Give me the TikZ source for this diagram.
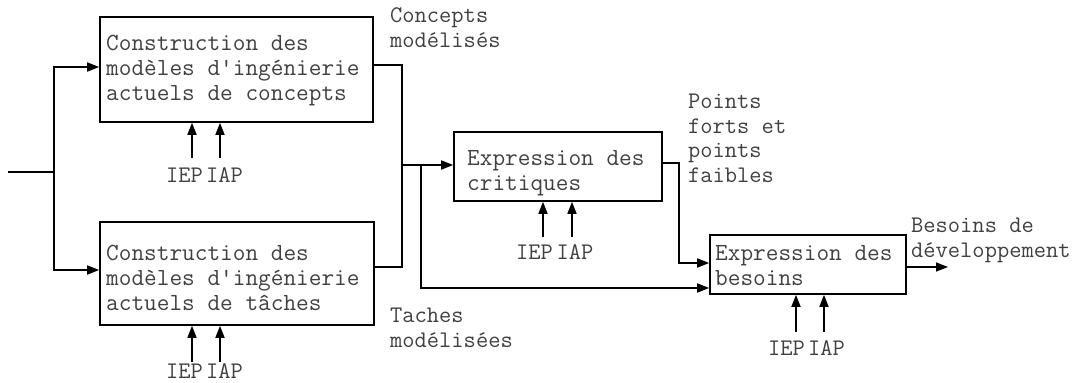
\documentclass[tikz,border=0pt]{standalone}
\usepackage{fontspec}
\usetikzlibrary{arrows.meta, positioning}

\begin{document}
\begin{tikzpicture}[
    x=1pt, y=-1pt,
    every node/.style={font=\ttfamily\fontsize{24.6pt}{25pt}\selectfont, text=black!75},
    procbox/.style={rectangle, draw=black, line width=1.6pt, inner sep=0pt},
    boxtxt/.style={align=left, inner sep=0pt, anchor=base west},
    lbl/.style={font=\ttfamily\fontsize{23.8pt}{24.5pt}\selectfont, align=left, inner sep=0pt},
    arr/.style={-{Triangle[length=12pt,width=9pt]}, line width=1.6pt},
    wire/.style={line width=1.6pt}
]
\useasboundingbox (0,0) rectangle (1085,383);

% process boxes
\node[procbox, minimum width=273pt, minimum height=105pt] (concepts) at (236.5,69.5) {};
\node[procbox, minimum width=274pt, minimum height=103pt] (taches) at (237,273.5) {};
\node[procbox, minimum width=208pt, minimum height=69pt] (critiques) at (558,166.5) {};
\node[procbox, minimum width=196pt, minimum height=59pt] (besoins) at (808,264.5) {};

% box texts (base = last line)
\node[boxtxt] (concepts-txt) at (106,100) {Construction des\\modèles d'ingénierie\\actuels de concepts};
\node[boxtxt] (taches-txt) at (106,310) {Construction des\\modèles d'ingénierie\\actuels de tâches};
\node[boxtxt] (critiques-txt) at (467,190) {Expression des\\critiques};
\node[boxtxt] (besoins-txt) at (715,285) {Expression des\\besoins};

% flow labels
\node[lbl, anchor=base west] (cmod) at (390,47) {Concepts\\modélisés};
\node[lbl, anchor=base west] (tmod) at (390,347) {Taches\\modélisées};
\node[lbl, anchor=base west] (pts) at (688,182) {Points\\forts et\\points\\faibles};
\node[lbl, anchor=base west] (dev) at (911,257) {Besoins de\\développement};

% main flow
\coordinate (in) at (8,172);
\coordinate (split) at (54,172);
\draw[wire] (in) -- (split);
\draw[arr] (split) |- ([yshift=2.5pt]concepts.west);
\draw[arr] (split) |- ([yshift=3.5pt]taches.west);
\coordinate (merge) at (402,165);
\draw[wire] ([yshift=4.5pt]concepts.east) -| (merge);
\draw[wire] ([yshift=6.5pt]taches.east) -| (merge);
\draw[arr] (merge) -- (merge -| critiques.west);
\coordinate (branch) at (421,165);
\draw[arr] (branch) |- ([yshift=-23.5pt]besoins.west);
\draw[arr] ([yshift=3.5pt]critiques.east) -- ++(16,0) |- ([yshift=1.5pt]besoins.west);
\coordinate (sortie) at (948,267);
\draw[arr] (besoins.east |- sortie) -- (sortie);

% IEP / IAP inputs
\node[lbl, anchor=base] (iep1) at (184.5,182) {IEP};
\node[lbl, anchor=base] (iap1) at (224.5,182) {IAP};
\draw[arr] ([xshift=7.5pt,yshift=24pt]iep1.base) -- ([xshift=7.5pt]iep1.base |- concepts.south);
\draw[arr] ([xshift=-4.5pt,yshift=24pt]iap1.base) -- ([xshift=-4.5pt]iap1.base |- concepts.south);

\node[lbl, anchor=base] (iep2) at (184.5,378) {IEP};
\node[lbl, anchor=base] (iap2) at (224.5,378) {IAP};
\draw[arr] ([xshift=7.5pt,yshift=16pt]iep2.base) -- ([xshift=7.5pt]iep2.base |- taches.south);
\draw[arr] ([xshift=-4.5pt,yshift=16pt]iap2.base) -- ([xshift=-4.5pt]iap2.base |- taches.south);

\node[lbl, anchor=base] (iep3) at (534.5,259) {IEP};
\node[lbl, anchor=base] (iap3) at (575,259) {IAP};
\draw[arr] ([xshift=8.5pt,yshift=22pt]iep3.base) -- ([xshift=8.5pt]iep3.base |- critiques.south);
\draw[arr] ([xshift=-3pt,yshift=22pt]iap3.base) -- ([xshift=-3pt]iap3.base |- critiques.south);

\node[lbl, anchor=base] (iep4) at (786.5,355) {IEP};
\node[lbl, anchor=base] (iap4) at (826.5,355) {IAP};
\draw[arr] ([xshift=9.5pt,yshift=23pt]iep4.base) -- ([xshift=9.5pt]iep4.base |- besoins.south);
\draw[arr] ([xshift=-2.5pt,yshift=23pt]iap4.base) -- ([xshift=-2.5pt]iap4.base |- besoins.south);
\end{tikzpicture}
\end{document}
